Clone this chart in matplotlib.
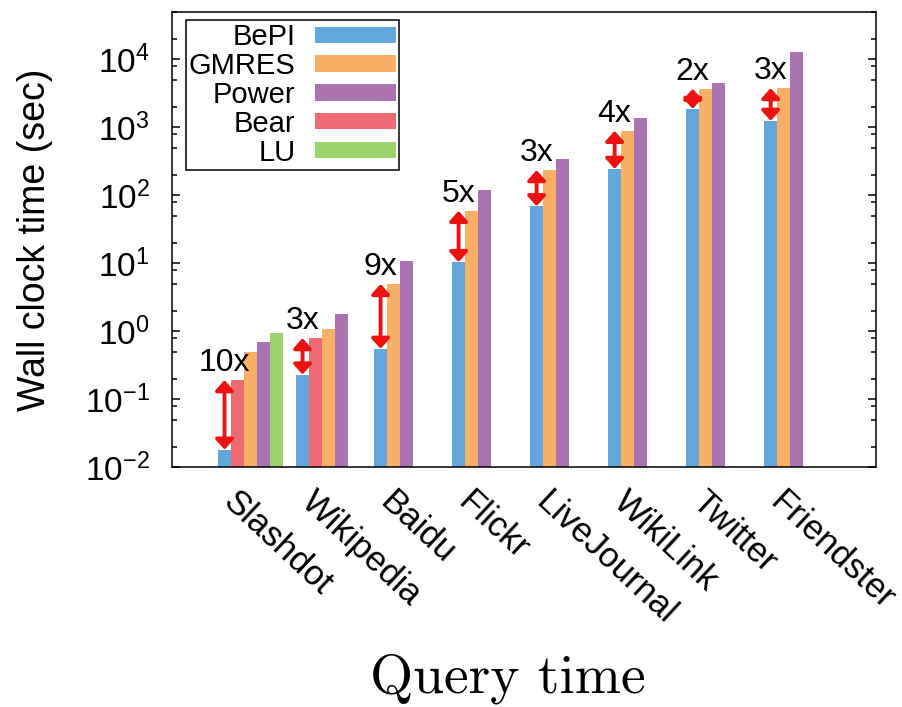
import matplotlib
matplotlib.use('Agg')
import matplotlib.pyplot as plt
from matplotlib.patches import Patch
from matplotlib.ticker import LogLocator, NullFormatter
from matplotlib.transforms import ScaledTranslation

plt.rcParams['font.family'] = ['Liberation Sans', 'DejaVu Sans']
plt.rcParams['mathtext.default'] = 'regular'
plt.rcParams['axes.unicode_minus'] = False

# query time per dataset (sec), None = method not run
datasets = ['Slashdot', 'Wikipedia', 'Baidu', 'Flickr', 'LiveJournal',
            'WikiLink', 'Twitter', 'Friendster']
bepi = [0.018, 0.23, 0.55, 10.4, 69, 245, 1870, 1250]
bear = [0.19, 0.79, None, None, None, None, None, None]
gmres = [0.49, 1.07, 4.95, 59, 235, 890, 3700, 3800]
power = [0.69, 1.8, 10.7, 120, 345, 1380, 4560, 12900]
lu = [0.93, None, None, None, None, None, None, None]

# speedup of BePI over the closest competitor
speedup = ['10x', '3x', '9x', '5x', '3x', '4x', '2x', '3x']
rival = [bear, bear, gmres, gmres, gmres, gmres, gmres, gmres]

colors = {'BePI': '#62a8dc', 'Bear': '#ef6b74', 'GMRES': '#f8b066',
          'Power': '#ab73b1', 'LU': '#9bd46e'}
series = [('BePI', bepi), ('Bear', bear), ('GMRES', gmres),
          ('Power', power), ('LU', lu)]

fig = plt.figure(figsize=(9.03, 7.07), dpi=100)
ax = fig.add_axes([172/903, 1-467/707, 704/903, 455/707])

# bars packed left inside each group, groups 6 slots apart
for i in range(len(datasets)):
    k = 0
    for name, vals in series:
        v = vals[i]
        if v is None:
            continue
        ax.bar(6*i + k, v, width=1.0, align='edge', color=colors[name],
               linewidth=0)
        k += 1

for i in range(len(datasets)):
    x = 6*i + 0.5
    top = rival[i][i]
    ax.annotate('', xy=(x, bepi[i]), xytext=(x, top),
                arrowprops=dict(arrowstyle='<|-|>,head_length=0.3,head_width=0.27',
                                color='#ee1111', lw=2.8, mutation_scale=20,
                                shrinkA=0, shrinkB=0))
    ax.annotate(speedup[i], xy=(x, top), xytext=(0, 1.5),
                textcoords='offset points', ha='center', va='bottom',
                fontsize=23)

ax.set_yscale('log')
ax.set_ylim(0.01, 5e4)
ax.set_xlim(-3.54, 50.6)
ax.yaxis.set_major_locator(LogLocator(base=10, numticks=20))
ax.yaxis.set_minor_locator(LogLocator(base=10, subs=[2, 5, 8], numticks=20))
ax.yaxis.set_minor_formatter(NullFormatter())
ax.tick_params(axis='y', which='both', direction='in', right=True,
               width=1.1, labelsize=24, pad=16)
ax.tick_params(axis='y', which='major', length=6)
ax.tick_params(axis='y', which='minor', length=3.5)

ax.set_xticks([6*i + 2.5 for i in range(len(datasets))])
ax.set_xticklabels(datasets, rotation=-43, ha='left', va='top',
                   rotation_mode='anchor', fontsize=25)
ax.tick_params(axis='x', length=0, pad=13)
shift = ScaledTranslation(-0.11, 0, fig.dpi_scale_trans)
for lab in ax.get_xticklabels():
    lab.set_transform(lab.get_transform() + shift)

for s in ax.spines.values():
    s.set_linewidth(1.1)

ax.set_ylabel('Wall clock time (sec)', fontsize=27, va='center')
ax.yaxis.set_label_coords(-0.195, 0.5)

order = ['BePI', 'GMRES', 'Power', 'Bear', 'LU']
handles = [Patch(facecolor=colors[n], label=n) for n in order]
leg = ax.legend(handles=handles, loc='upper left', bbox_to_anchor=(0.02, 0.982),
                borderaxespad=0, markerfirst=False, fontsize=21,
                handlelength=2.8, handleheight=0.48, handletextpad=0.65,
                labelspacing=0.03, borderpad=0.1, fancybox=False,
                framealpha=1, edgecolor='black')
leg.get_frame().set_linewidth(1.1)

fig.text(508/903, 1-693/707, 'Query time', family='cmr10', fontsize=40,
         ha='center', va='baseline')

fig.savefig('out.png', dpi=100)
